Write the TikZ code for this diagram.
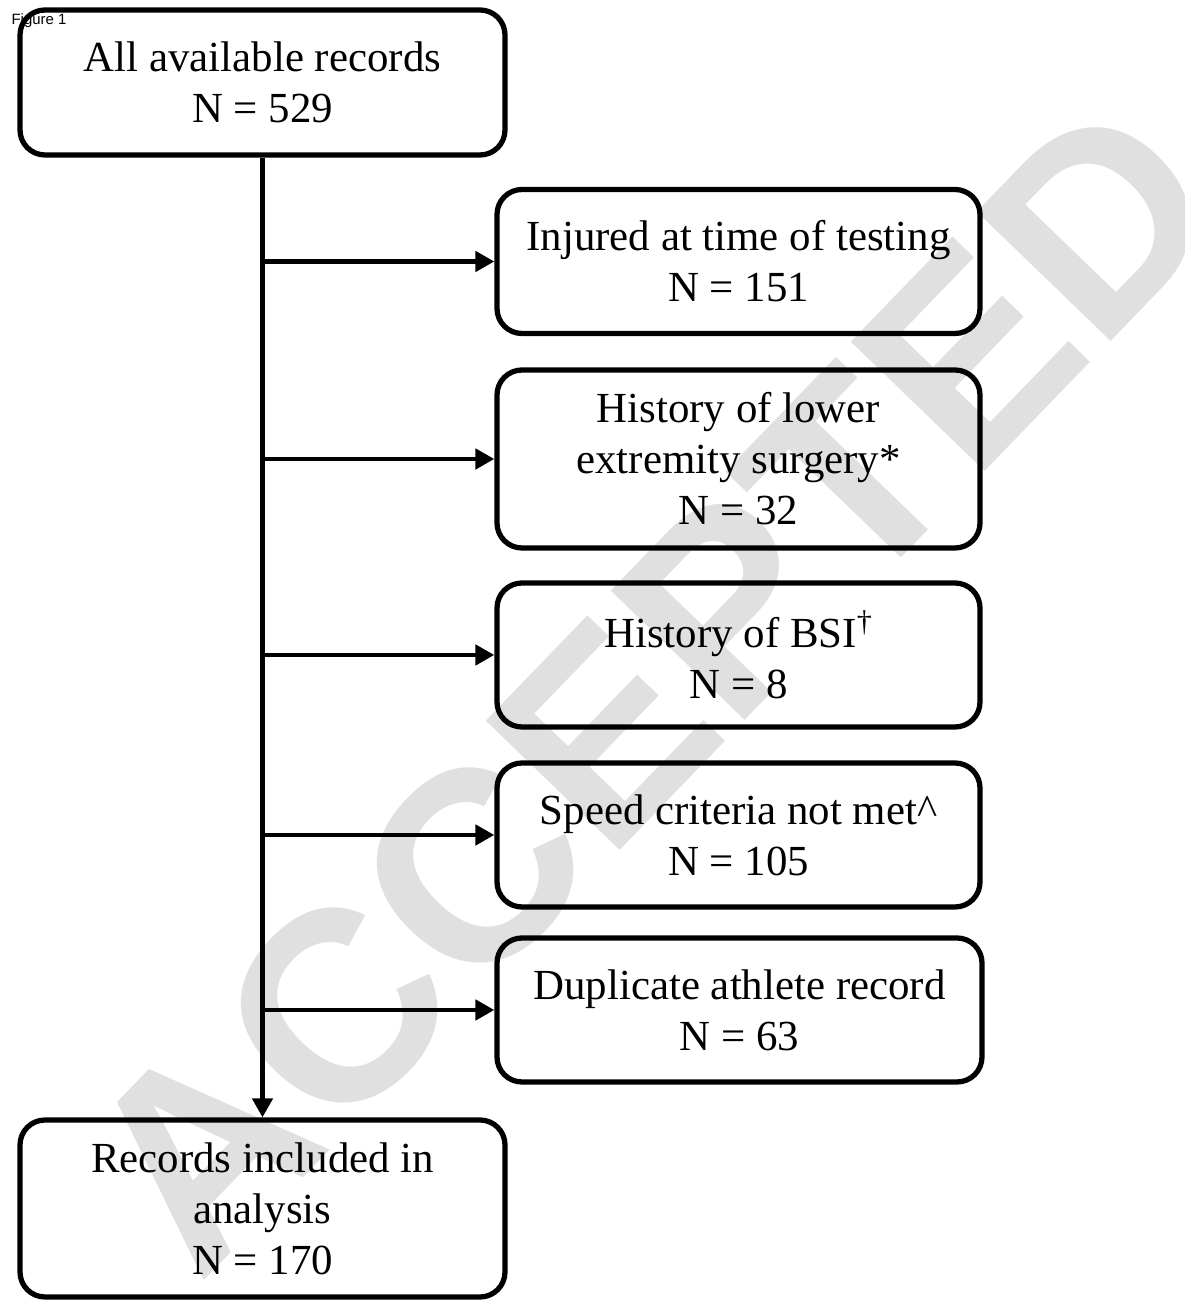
\documentclass[tikz,border=0pt]{standalone}
\usepackage{fontspec}
\setmainfont{Liberation Serif}
\newfontfamily\labelfont{Liberation Sans}
\usetikzlibrary{arrows.meta}
\begin{document}
\begin{tikzpicture}[
	box/.style={draw,line width=3pt,rounded corners=0.5cm,align=center,inner sep=0pt,
		minimum width=9.66cm,minimum height=2.88cm,font=\fontsize{24.4}{29}\selectfont},
	link/.style={line width=2.8pt,-{Triangle[length=0.38cm,width=0.4cm]}}]
	\useasboundingbox (0,0) rectangle (23.7,26) ;
	\node[rotate=46,text=black!12,font=\labelfont\bfseries\fontsize{154}{154}\selectfont] (stamp) at (13.0,12.3) {ACCEPTED} ;
	\node[box,minimum width=9.7cm,minimum height=2.9cm] (all) at (5.25,24.35) {All available records\\N = 529} ;
	\node[box] (inj) at (14.77,20.77) {Injured at time of testing\\N = 151} ;
	\node[box,minimum height=3.56cm] (surg) at (14.77,16.82) {History of lower\\extremity surgery*\\N = 32} ;
	\node[box] (bsi) at (14.77,12.90) {History of BSI\textsuperscript{\textdagger}\\N = 8} ;
	\node[box] (speed) at (14.77,09.30) {Speed criteria not met\textasciicircum\\N = 105} ;
	\node[box,minimum width=9.7cm] (dup) at (14.79,05.80) {Duplicate athlete record\\N = 63} ;
	\node[box,minimum width=9.7cm,minimum height=3.54cm] (incl) at (5.25,01.83) {Records included in\\analysis\\N = 170} ;
	\draw[link] (all.south) -- (incl.north) ;
	\draw[link] (all.south |- inj.west) -- (inj.west) ;
	\draw[link] (all.south |- surg.west) -- (surg.west) ;
	\draw[link] (all.south |- bsi.west) -- (bsi.west) ;
	\draw[link] (all.south |- speed.west) -- (speed.west) ;
	\draw[link] (all.south |- dup.west) -- (dup.west) ;
	\node[font=\labelfont\fontsize{8.5}{10}\selectfont] (fig) at (0.78,25.58) {Figure 1} ;
\end{tikzpicture}
\end{document}
